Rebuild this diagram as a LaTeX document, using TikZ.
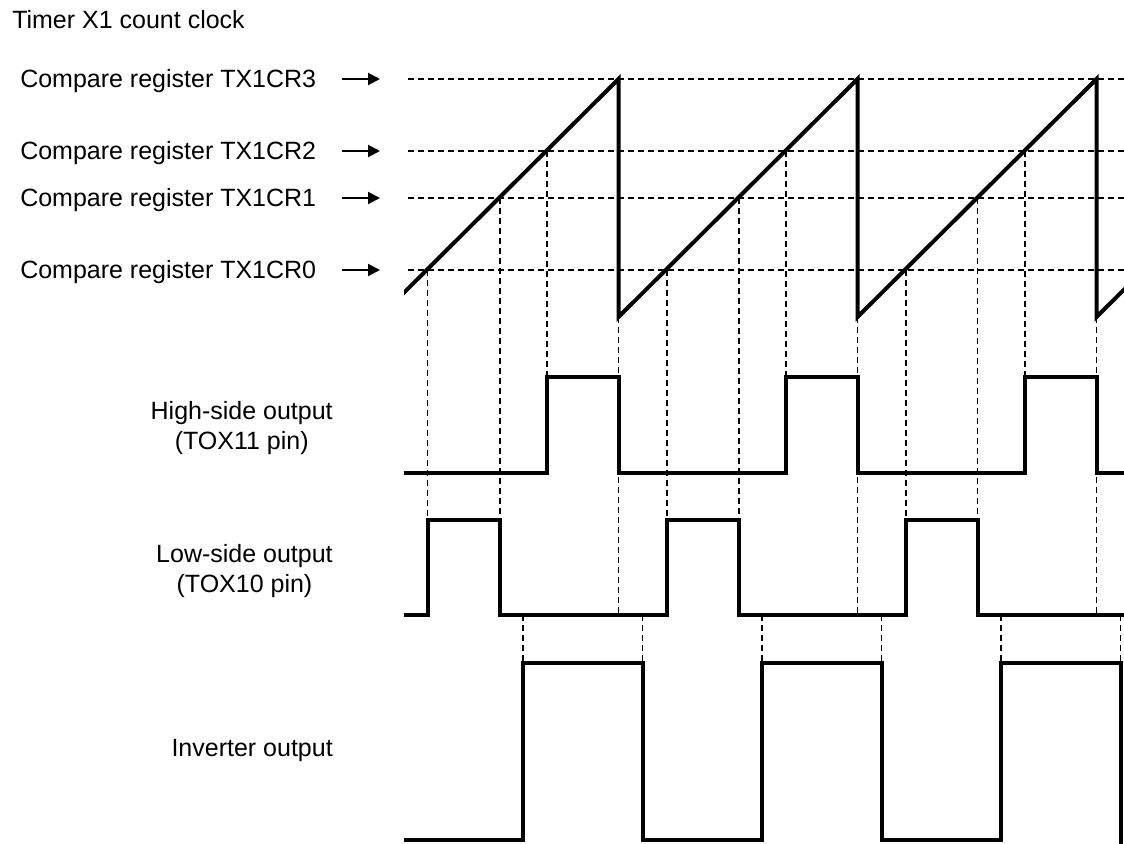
\documentclass[tikz,border=0pt]{standalone}
\usepackage{fontspec}
\setmainfont{Liberation Sans}
\usetikzlibrary{arrows.meta}
\tikzset{
  lbl/.style   ={font=\fontsize{18.75}{22.1}\selectfont,inner sep=0pt},
  grid/.style  ={draw=black,line width=1.1pt,dash pattern=on 4.5pt off 3pt},
  wave/.style  ={draw=black,line width=3pt,line join=miter},
  regarr/.style={-{Triangle[length=9pt,width=9pt]},line width=1.5pt},
}

\begin{document}
\begin{tikzpicture}[x=0.75pt, y=-0.75pt]
\useasboundingbox (0,0) rectangle (1124,843);

\node[lbl,anchor=base west] (title) at (12,28) {Timer X1 count clock};

% compare levels with their arrows
\foreach \n/\y in {3/79,2/151,1/198,0/270} {
  \node[lbl,anchor=base west] (cr\n) at (20,\y+8.5) {Compare register TX1CR\n};
  \coordinate (tip\n) at (380,\y);
  \draw[regarr] (cr\n.east |- tip\n) ++(26,0) -- (tip\n);
  \draw[grid] (408,\y) -- (1124,\y);
}

% vertical guides
\foreach \x in {427.7,667,906}     \draw[grid] (\x,270) -- (\x,520);
\foreach \x in {500,739,977.7}     \draw[grid] (\x,198) -- (\x,520);
\foreach \x in {547,786,1025}      \draw[grid] (\x,151) -- (\x,377);
\foreach \x in {618.5,857.5,1096.5} \draw[grid] (\x,317) -- (\x,615);
\foreach \x in {523,642.5,762,881.7,1001,1120.7} \draw[grid] (\x,615) -- (\x,663);

% counter sawtooth
\begin{scope}
  \clip (404,0) rectangle (1124,843);
  \draw[wave] (379.5,317)
    \foreach \p in {618.5,857.5,1096.5} { -- (\p,79) -- (\p,317) } -- (1335.5,79);
\end{scope}

% high-side output (TOX11)
\node[lbl,anchor=east,align=center] (hs) at (333,428) {High-side output\\(TOX11 pin)};
\draw[wave] (404,473)
  \foreach \a/\b in {547/618.5,786/857.5,1025/1096.5}
    { -- (\a,473) -- (\a,377) -- (\b,377) -- (\b,473) } -- (1124,473);

% low-side output (TOX10)
\node[lbl,anchor=east,align=center] (ls) at (333,571) {Low-side output\\(TOX10 pin)};
\draw[wave] (404,615)
  \foreach \a/\b in {427.7/500,667/739,906/977.7}
    { -- (\a,615) -- (\a,520) -- (\b,520) -- (\b,615) } -- (1124,615);

% inverter output, with dead time
\node[lbl,anchor=base east] (inv) at (333,756) {Inverter output};
\draw[wave] (404,840)
  \foreach \a/\b in {523/642.5,762/881.7,1001/1120.7}
    { -- (\a,840) -- (\a,663) -- (\b,663) -- (\b,840) } -- (1120.7,845);
\end{tikzpicture}
\end{document}
